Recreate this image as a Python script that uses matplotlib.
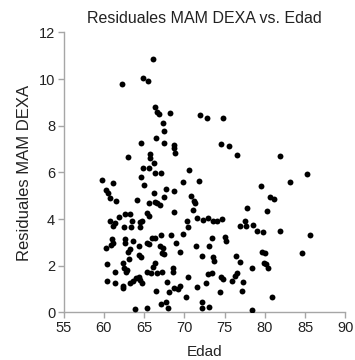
import matplotlib
matplotlib.use("Agg")
import matplotlib.pyplot as plt

plt.rcParams['font.family'] = ['Liberation Sans', 'DejaVu Sans']

edad = [
    62.3, 64.85, 65.5, 66.15, 66.3, 66.56, 66.8, 68.25, 71.95, 72.85, 74.85, 67.33, 67.5, 66.5,
    64.65, 67.47, 68.75, 68.75, 68.9, 74.6, 75.54, 76.53, 81.85,
    63.02, 65.72, 65.75, 66.2, 64.85, 65.63, 66.38, 67.08, 64.6, 65.0, 59.78, 61.2, 60.27, 60.55,
    60.77, 61.56, 64.18, 66.28, 70.62, 69.83, 71.81, 67.68, 68.7, 67.47, 79.47, 83.11, 85.18,
    80.65, 81.13, 70.83,
    65.65, 66.38, 66.58, 67.02, 71.18, 71.34, 71.05, 68.7, 77.82, 80.28, 65.4, 65.55, 62.63, 63.2,
    61.9, 60.77, 61.35, 61.15, 63.47, 64.48, 64.75, 70.27, 71.6, 72.3, 72.9, 73.5, 74.09, 74.71,
    77.55, 78.56,
    62.5, 63.33, 64.55, 70.49, 69.8, 68.34, 67.1, 66.36, 65.94, 65.4, 65.65, 73.47, 75.05, 75.17,
    76.9, 77.61, 79.06, 79.8, 81.87, 85.63, 61.06, 61.18, 60.27, 60.86, 62.63, 62.63, 63.66, 64.37,
    63.25, 62.97, 68.96,
    67.0, 67.3, 67.2, 67.5, 71.4, 73.06, 69.46, 72.23, 73.6, 73.72, 76.45, 76.95, 79.6, 80.01,
    84.57, 79.95, 80.2, 80.42, 78.43, 63.13, 64.41, 64.62, 60.36, 62.35, 66.36, 66.15,
    62.5, 62.84, 62.72, 61.39, 60.36, 61.35, 62.35, 62.43, 63.25, 63.66, 63.95, 64.41, 64.5, 64.7,
    65.32, 65.86, 66.56, 68.63, 68.63, 67.19, 72.97, 73.39, 76.5, 76.3, 74.55, 74.84, 70.49, 67.81,
    72.69, 75.88, 77.32, 68.71, 69.17, 69.46, 71.53,
    66.5, 68.13, 74.43, 77.2, 70.17, 80.92, 67.72, 67.1, 68.01, 72.15, 72.15, 73.06, 78.43, 63.87,
    65.4,
]
residuales = [
    9.79, 10.04, 9.9, 10.85, 8.79, 8.61, 8.49, 8.53, 8.45, 8.35, 8.35, 8.11, 7.76, 7.49,
    7.25, 7.25, 7.19, 7.04, 6.83, 7.2, 7.15, 6.75, 6.7,
    6.65, 6.78, 6.6, 6.41, 6.2, 6.2, 5.99, 5.96, 5.82, 5.48, 5.66, 5.55, 5.24, 5.11,
    4.92, 4.77, 4.84, 5.13, 6.1, 5.58, 5.63, 5.31, 5.2, 4.95, 5.4, 5.57, 5.93,
    4.95, 4.88, 5.0,
    4.69, 4.74, 4.69, 4.6, 4.78, 4.69, 4.38, 4.3, 4.47, 4.34, 4.26, 4.15, 4.23, 4.24,
    4.1, 3.94, 3.83, 3.71, 3.94, 3.88, 3.94, 3.9, 4.05, 3.96, 4.04, 3.9, 3.9, 4.0,
    3.93, 3.74,
    3.67, 3.67, 3.68, 3.65, 3.38, 3.33, 3.32, 3.2, 3.18, 2.97, 2.93, 3.18, 3.24, 3.08,
    3.71, 3.71, 3.47, 3.46, 3.49, 3.34, 3.14, 2.97, 2.75, 2.89, 3.14, 2.99, 3.08, 2.85,
    2.71, 2.61, 2.99,
    2.85, 2.75, 2.54, 2.51, 2.85, 2.85, 2.61, 2.42, 2.37, 2.22, 2.42, 2.15, 2.61, 2.55,
    2.54, 2.12, 2.06, 1.92, 1.92, 2.28, 2.46, 2.37, 2.07, 2.11, 2.11, 1.96,
    1.92, 1.82, 1.75, 1.75, 1.35, 1.28, 1.15, 1.04, 1.25, 1.35, 1.47, 1.51, 1.39, 1.25,
    1.75, 1.68, 1.71, 1.92, 1.72, 1.72, 1.65, 1.71, 1.68, 1.58, 1.53, 1.42, 1.51, 1.32,
    1.28, 1.35, 1.32, 1.06, 1.01, 1.14, 1.11,
    0.93, 0.89, 0.89, 0.94, 0.68, 0.68, 0.46, 0.35, 0.18, 0.46, 0.18, 0.25, 0.11, 0.14,
    0.21,
]

x_ticks = [55, 60, 65, 70, 75, 80, 85, 90]
y_ticks = [0, 2, 4, 6, 8, 10, 12]

fig = plt.figure(figsize=(3.55, 3.6), dpi=100)
ax = fig.add_axes([0.179, 0.132, 0.794, 0.778])
ax.scatter(edad, residuales, s=18, color='black', linewidths=0, zorder=3)

ax.set_xlim(55, 90)
ax.set_ylim(0, 12)
ax.set_xticks(x_ticks)
ax.set_yticks(y_ticks)
for side in ['top', 'right']:
    ax.spines[side].set_visible(False)
for side in ['left', 'bottom']:
    ax.spines[side].set_color('#a6a6a6')
    ax.spines[side].set_linewidth(1.0)
ax.tick_params(axis='both', direction='out', length=4, width=1.0, color='#a6a6a6',
               labelsize=10.5, labelcolor='#222222', pad=2)

ax.set_title('Residuales MAM DEXA vs. Edad', fontsize=11.5, color='#222222', pad=7)
ax.set_xlabel('Edad', fontsize=11, color='#222222', labelpad=7)
ax.set_ylabel('Residuales MAM DEXA', fontsize=12, color='#222222', labelpad=5)

fig.savefig('out.png', dpi=100)
